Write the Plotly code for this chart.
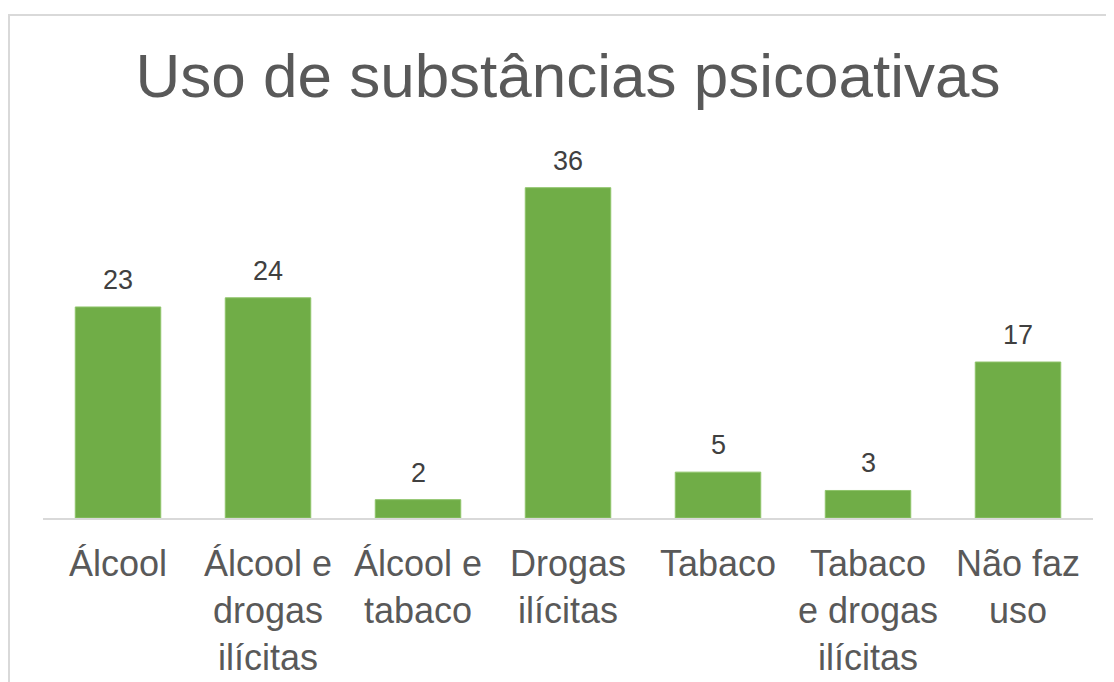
import plotly.graph_objects as go

categories = ["Álcool", "Álcool e drogas ilícitas", "Álcool e tabaco", "Drogas ilícitas",
              "Tabaco", "Tabaco e drogas ilícitas", "Não faz uso"]
tick_labels = ["Álcool", "Álcool e<br>drogas<br>ilícitas", "Álcool e<br>tabaco", "Drogas<br>ilícitas",
               "Tabaco", "Tabaco<br>e drogas<br>ilícitas", "Não faz<br>uso"]
values = [23, 24, 2, 36, 5, 3, 17]

FONT = "Arial, Liberation Sans, sans-serif"
# page body has an 8px margin, so the figure is offset by 8px in the window
W, H = 1106, 674
L, R, T, B = 35, 21, 143, 164
pw = W - L - R
ph = H - T - B

fig = go.Figure()
fig.add_trace(go.Bar(
    x=categories, y=values,
    marker=dict(color="#70AD47", line=dict(color="#8fc46a", width=1)),
    hoverinfo="x+y",
))

for c, v in zip(categories, values):
    fig.add_annotation(x=c, y=v, text=str(v), showarrow=False, yanchor="bottom",
                       yshift=10, font=dict(family=FONT, size=27, color="#404040"))

# chart border (top-left corner visible; right/bottom edges fall outside the view)
fig.add_shape(type="rect", xref="paper", yref="paper",
              x0=(1 - L) / pw, x1=(W + 20 - L) / pw,
              y0=-(H + 20 - (H - B)) / ph, y1=((H - B) - 7) / ph,
              line=dict(color="#d9d9d9", width=2), fillcolor="rgba(0,0,0,0)", layer="below")

fig.update_layout(
    width=W, height=H,
    margin=dict(l=L, r=R, t=T, b=B, pad=0, autoexpand=False),
    paper_bgcolor="white", plot_bgcolor="white",
    bargap=0.43,
    showlegend=False,
    title=dict(text="Uso de substâncias psicoativas", x=0.5, xref="paper", xanchor="center",
               y=1 - 67 / H, yref="container", yanchor="middle", automargin=False,
               font=dict(family=FONT, size=62, color="#595959")),
    xaxis=dict(tickmode="array", tickvals=categories, ticktext=tick_labels,
               showline=True, linecolor="#d9d9d9", linewidth=2, ticks="",
               tickfont=dict(family=FONT, size=36, color="#595959"), ticklabelstandoff=13,
               automargin=False,
               showgrid=False, zeroline=False, fixedrange=True),
    yaxis=dict(range=[0, 40], visible=False, showgrid=False, zeroline=False, fixedrange=True,
               automargin=False),
)

fig.write_html("out.html")
